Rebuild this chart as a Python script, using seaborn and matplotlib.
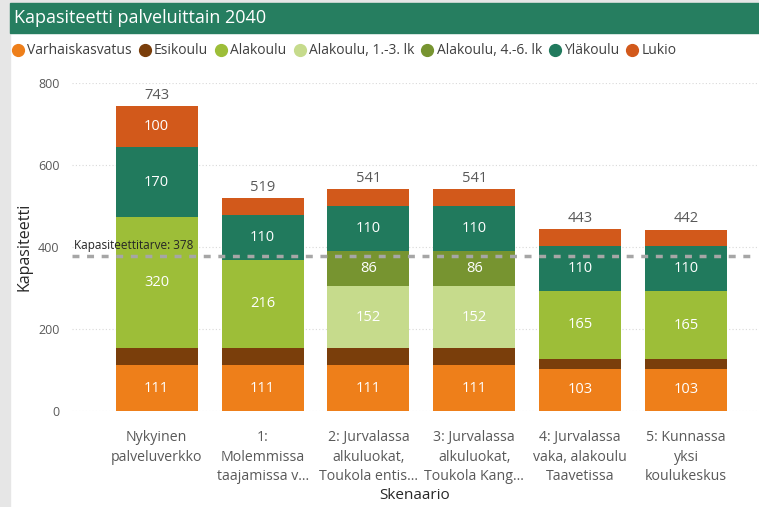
import numpy as np
import pandas as pd
import matplotlib.pyplot as plt
import seaborn as sns
from matplotlib.patches import Rectangle
from matplotlib.lines import Line2D

# data
scenarios = [
    "Nykyinen\npalveluverkko",
    "1:\nMolemmissa\ntaajamissa v...",
    "2: Jurvalassa\nalkuluokat,\nToukola entis...",
    "3: Jurvalassa\nalkuluokat,\nToukola Kang...",
    "4: Jurvalassa\nvaka, alakoulu\nTaavetissa",
    "5: Kunnassa\nyksi\nkoulukeskus",
]
series = ["Varhaiskasvatus", "Esikoulu", "Alakoulu", "Alakoulu, 1.-3. lk",
          "Alakoulu, 4.-6. lk", "Yläkoulu", "Lukio"]
varhaiskasvatus = [111, 111, 111, 111, 103, 103]
esikoulu = [42, 42, 42, 42, 25, 24]
alakoulu = [320, 216, 0, 0, 165, 165]
alakoulu_1_3 = [0, 0, 152, 152, 0, 0]
alakoulu_4_6 = [0, 0, 86, 86, 0, 0]
ylakoulu = [170, 110, 110, 110, 110, 110]
lukio = [100, 40, 40, 40, 40, 40]
totals = [743, 519, 541, 541, 443, 442]
tarve = 378

colors = ["#EE7F1A", "#7A3E0B", "#9DBE38", "#C6DB8C", "#779430", "#217A5D", "#D2591B"]

values = [varhaiskasvatus, esikoulu, alakoulu, alakoulu_1_3, alakoulu_4_6, ylakoulu, lukio]
df = pd.DataFrame(dict(zip(series, values)))
df["Skenaario"] = scenarios
cum = df[series].cumsum(axis=1)

sns.set_theme(style="white")
plt.rcParams["font.family"] = ["Open Sans", "DejaVu Sans"]

fig = plt.figure(figsize=(7.59, 5.07), dpi=100)
fig.patch.set_facecolor("white")
W, H = 759, 507

# frame: gray strips and green title bar
fig.patches.append(Rectangle((0, 0), 10 / W, 1, transform=fig.transFigure, color="#E6E6E6", zorder=0))
fig.patches.append(Rectangle((0, 1 - 3 / H), 1, 3 / H, transform=fig.transFigure, color="#E6E6E6", zorder=0))
fig.patches.append(Rectangle((10 / W, 1 - 33 / H), 1, 30 / H, transform=fig.transFigure, color="#267E60", zorder=1))
fig.text(14 / W, 1 - 18 / H, "Kapasiteetti palveluittain 2040", color="white", fontsize=13,
         va="center", ha="left")

ax = fig.add_axes([72 / W, 1 - 411 / H, (757 - 72) / W, (411 - 83) / H])

# stacked bars: draw cumulative sums from top layer downwards
for i in range(len(series) - 1, -1, -1):
    sns.barplot(x=df["Skenaario"], y=cum[series[i]], color=colors[i], width=0.775,
                saturation=1, linewidth=0, ax=ax, zorder=3)

for i, s in enumerate(series):
    for j, v in enumerate(df[s]):
        if v >= 80:
            ax.text(j, cum[s][j] - v / 2, str(v), ha="center", va="center",
                    color="white", fontsize=10.5, zorder=5)
for j, t in enumerate(totals):
    ax.text(j, t + 9, str(t), ha="center", va="bottom", color="#595959", fontsize=10.5, zorder=5)

ax.axhline(tarve, color="#A6A6A6", lw=2.5, ls=(0, (2, 2.2)), zorder=4)
ax.text(-0.78, tarve + 9, f"Kapasiteettitarve: {tarve}", fontsize=8.5, color="#262626",
        va="bottom", ha="left", zorder=6)

ax.set_xlim(-0.8, 5.67)
ax.set_ylim(0, 800)
ax.set_yticks([0, 200, 400, 600, 800])
ax.yaxis.grid(True, color="#D9D9D9", ls=(0, (1, 2)), lw=0.8, zorder=0)
ax.set_axisbelow(True)
for sp in ax.spines.values():
    sp.set_visible(False)
ax.tick_params(axis="y", colors="#595959", labelsize=9, length=0, pad=9)
ax.tick_params(axis="x", colors="#595959", labelsize=10.2, length=0, pad=14)
ax.set_xticks(range(len(scenarios)))
ax.set_xticklabels(scenarios, linespacing=1.4)
ax.set_xlabel("Skenaario", fontsize=11, color="#262626", labelpad=3)
ax.set_ylabel("Kapasiteetti", fontsize=11.5, color="#262626")
ax.yaxis.set_label_coords((33 - 72) / 685, 0.5)

handles = [Line2D([], [], marker="o", ls="", color=c, markersize=8.5) for c in colors]
fig.legend(handles, series, loc="center left", bbox_to_anchor=(7 / W, 1 - 51 / H), ncol=7,
           frameon=False, fontsize=10, handlelength=0.8, handletextpad=0.25, columnspacing=0.55,
           labelcolor="#404040", borderaxespad=0)

fig.savefig("out.png", dpi=100)
